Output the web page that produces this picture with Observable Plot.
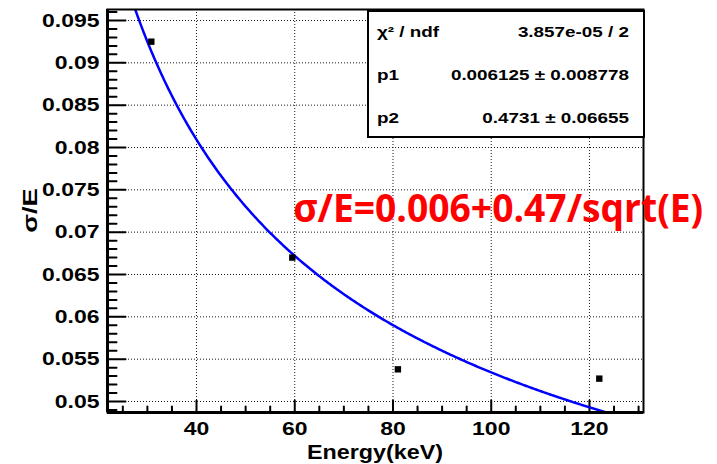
<!DOCTYPE html>
<html><head><meta charset="utf-8">
<script src="https://cdn.jsdelivr.net/npm/d3@7"></script>
<script src="https://cdn.jsdelivr.net/npm/@observablehq/plot@0.6"></script>
<style>
body{margin:0;background:#fff;}
#chart{position:absolute;left:0;top:0;}
</style>
</head><body><div id="chart"></div>
<script>
// ---- data ----
const energies   = [30.8, 59.5, 81, 122];          // keV
const resolution = [0.0925, 0.0670, 0.0538, 0.0527]; // sigma/E
const xMajor = [40, 60, 80, 100, 120];
const xMinor = [25, 30, 35, 45, 50, 55, 65, 70, 75, 85, 90, 95, 105, 110, 115, 125, 130];
const yMajor = [0.05, 0.055, 0.06, 0.065, 0.07, 0.075, 0.08, 0.085, 0.09, 0.095];
const yMinor = [0.049, 0.051, 0.052, 0.053, 0.054, 0.056, 0.057, 0.058, 0.059, 0.061, 0.062, 0.063, 0.064,
                0.066, 0.067, 0.068, 0.069, 0.071, 0.072, 0.073, 0.074, 0.076, 0.077, 0.078, 0.079,
                0.081, 0.082, 0.083, 0.084, 0.086, 0.087, 0.088, 0.089, 0.091, 0.092, 0.093, 0.094, 0.096];
// fit parameters shown in the stats box
const p1 = 0.006125, p2 = 0.4731;
const statsNames  = ["χ² / ndf", "p1", "p2"];
const statsValues = ["3.857e-05 / 2", "0.006125 ± 0.008778", "0.4731 ± 0.06655"];
const fitText = "σ/E=0.006+0.47/sqrt(E)";
const xLabel = "Energy(keV)";
const yLabel = "σ/E";

const xDomain = [21.88, 131.0];
const yDomain = [0.0487, 0.0963];

(function () {
const points = energies.map((e, i) => ({E: e, r: resolution[i]}));
const fitCurve = d3.range(xDomain[0], xDomain[1] + 0.25, 0.25).map(E => ({E, r: p1 + p2 / Math.sqrt(E)}));

const tickShape = {draw(ctx, l) { ctx.moveTo(0, 0); ctx.lineTo(0, -l); }};
const fmtY = d => String(+d.toFixed(3));

const chart = Plot.plot({
  width: 717, height: 464,
  marginLeft: 107, marginRight: 74, marginTop: 9, marginBottom: 52,
  style: {fontFamily: "'Liberation Sans', Arial, sans-serif", fontWeight: "bold", background: "#fff", color: "#000"},
  x: {domain: xDomain},
  y: {domain: yDomain},
  marks: [
    Plot.gridX(xMajor, {stroke: "#000", strokeOpacity: 0.9, strokeDasharray: "1,2", strokeWidth: 1}),
    Plot.gridY(yMajor, {stroke: "#000", strokeOpacity: 0.9, strokeDasharray: "1,2", strokeWidth: 1}),
    Plot.axisX(xMajor, {tickSize: 0, tickPadding: 9, fontSize: 19, fontWeight: "bold", label: null}),
    Plot.axisY(yMajor, {tickSize: 0, tickPadding: 8, fontSize: 19, fontWeight: "bold", tickFormat: fmtY, label: null}),
    Plot.vector(xMajor, {x: d => d, frameAnchor: "bottom", length: 12, rotate: 0, anchor: "start", shape: tickShape, stroke: "#000", strokeWidth: 2}),
    Plot.vector(xMinor, {x: d => d, frameAnchor: "bottom", length: 6, rotate: 0, anchor: "start", shape: tickShape, stroke: "#000", strokeWidth: 2}),
    Plot.vector(yMajor, {y: d => d, frameAnchor: "left", length: 18, rotate: 90, anchor: "start", shape: tickShape, stroke: "#000", strokeWidth: 2}),
    Plot.vector(yMinor, {y: d => d, frameAnchor: "left", length: 9, rotate: 90, anchor: "start", shape: tickShape, stroke: "#000", strokeWidth: 2}),
    Plot.line(fitCurve, {x: "E", y: "r", stroke: "#0000ff", strokeWidth: 2.5, clip: true}),
    Plot.dot(points, {x: "E", y: "r", symbol: "square", r: 3.6, fill: "#000", stroke: "none"}),
    Plot.frame({stroke: "#000", strokeWidth: 2}),
    Plot.ruleX([xDomain[0]], {stroke: "#000", strokeWidth: 3}),
    Plot.ruleY([yDomain[0]], {stroke: "#000", strokeWidth: 3})
  ]
});

document.getElementById("chart").appendChild(chart);
const svg = d3.select(chart);
const sx = chart.scale("x"), sy = chart.scale("y");
const fLeft = sx.apply(xDomain[0]), fRight = sx.apply(xDomain[1]);
const fTop = sy.apply(yDomain[1]), fBottom = sy.apply(yDomain[0]);

function stretch(sel, f) {
  sel.each(function() {
    const w = this.getComputedTextLength();
    this.setAttribute("textLength", w * f);
    this.setAttribute("lengthAdjust", "spacingAndGlyphs");
  });
}
stretch(svg.selectAll("g[aria-label='x-axis tick label'] text"), 1.21);
stretch(svg.selectAll("g[aria-label='y-axis tick label'] text"), 1.21);

const FF = "'Liberation Sans', Arial, sans-serif";
// axis titles
const xt = svg.append("text").attr("x", (fLeft + fRight) / 2).attr("y", fBottom + 47)
  .attr("text-anchor", "middle").attr("font-size", 21).attr("font-weight", "bold")
  .attr("font-family", FF).text(xLabel);
stretch(xt, 1.11);
const yt = svg.append("text").attr("transform", `translate(37,${(fTop + fBottom) / 2}) rotate(-90)`)
  .attr("text-anchor", "middle").attr("font-size", 21).attr("font-weight", "bold")
  .attr("font-family", FF).text(yLabel);
stretch(yt, 1.3);

// stats box
const bx = fRight - 275, by = fTop + 2, bw = 276, bh = 126;
const g = svg.append("g");
g.append("rect").attr("x", bx).attr("y", by).attr("width", bw).attr("height", bh)
  .attr("fill", "#fff").attr("stroke", "#000").attr("stroke-width", 2);
statsNames.forEach((n, i) => {
  const cy = by + 21 + i * 43;
  const t1 = g.append("text").attr("x", bx + 9).attr("y", cy).attr("dy", "0.35em").attr("text-anchor", "start")
    .attr("font-size", 14.5).attr("font-weight", "bold").attr("font-family", FF).text(n);
  const t2 = g.append("text").attr("x", bx + bw - 15).attr("y", cy).attr("dy", "0.35em").attr("text-anchor", "end")
    .attr("font-size", 14.5).attr("font-weight", "bold").attr("font-family", FF).text(statsValues[i]);
  stretch(t1, 1.3); stretch(t2, 1.3);
});

// fit annotation
const ft = svg.append("text").attr("x", sx.apply(59.8)).attr("y", sy.apply(0.0711)).attr("text-anchor", "start")
  .attr("font-size", 39).attr("font-weight", "bold").attr("fill", "#ff0000")
  .attr("font-family", "'Open Sans', sans-serif").text(fitText);
ft.attr("textLength", 410).attr("lengthAdjust", "spacingAndGlyphs");
})();
</script>
</body></html>
